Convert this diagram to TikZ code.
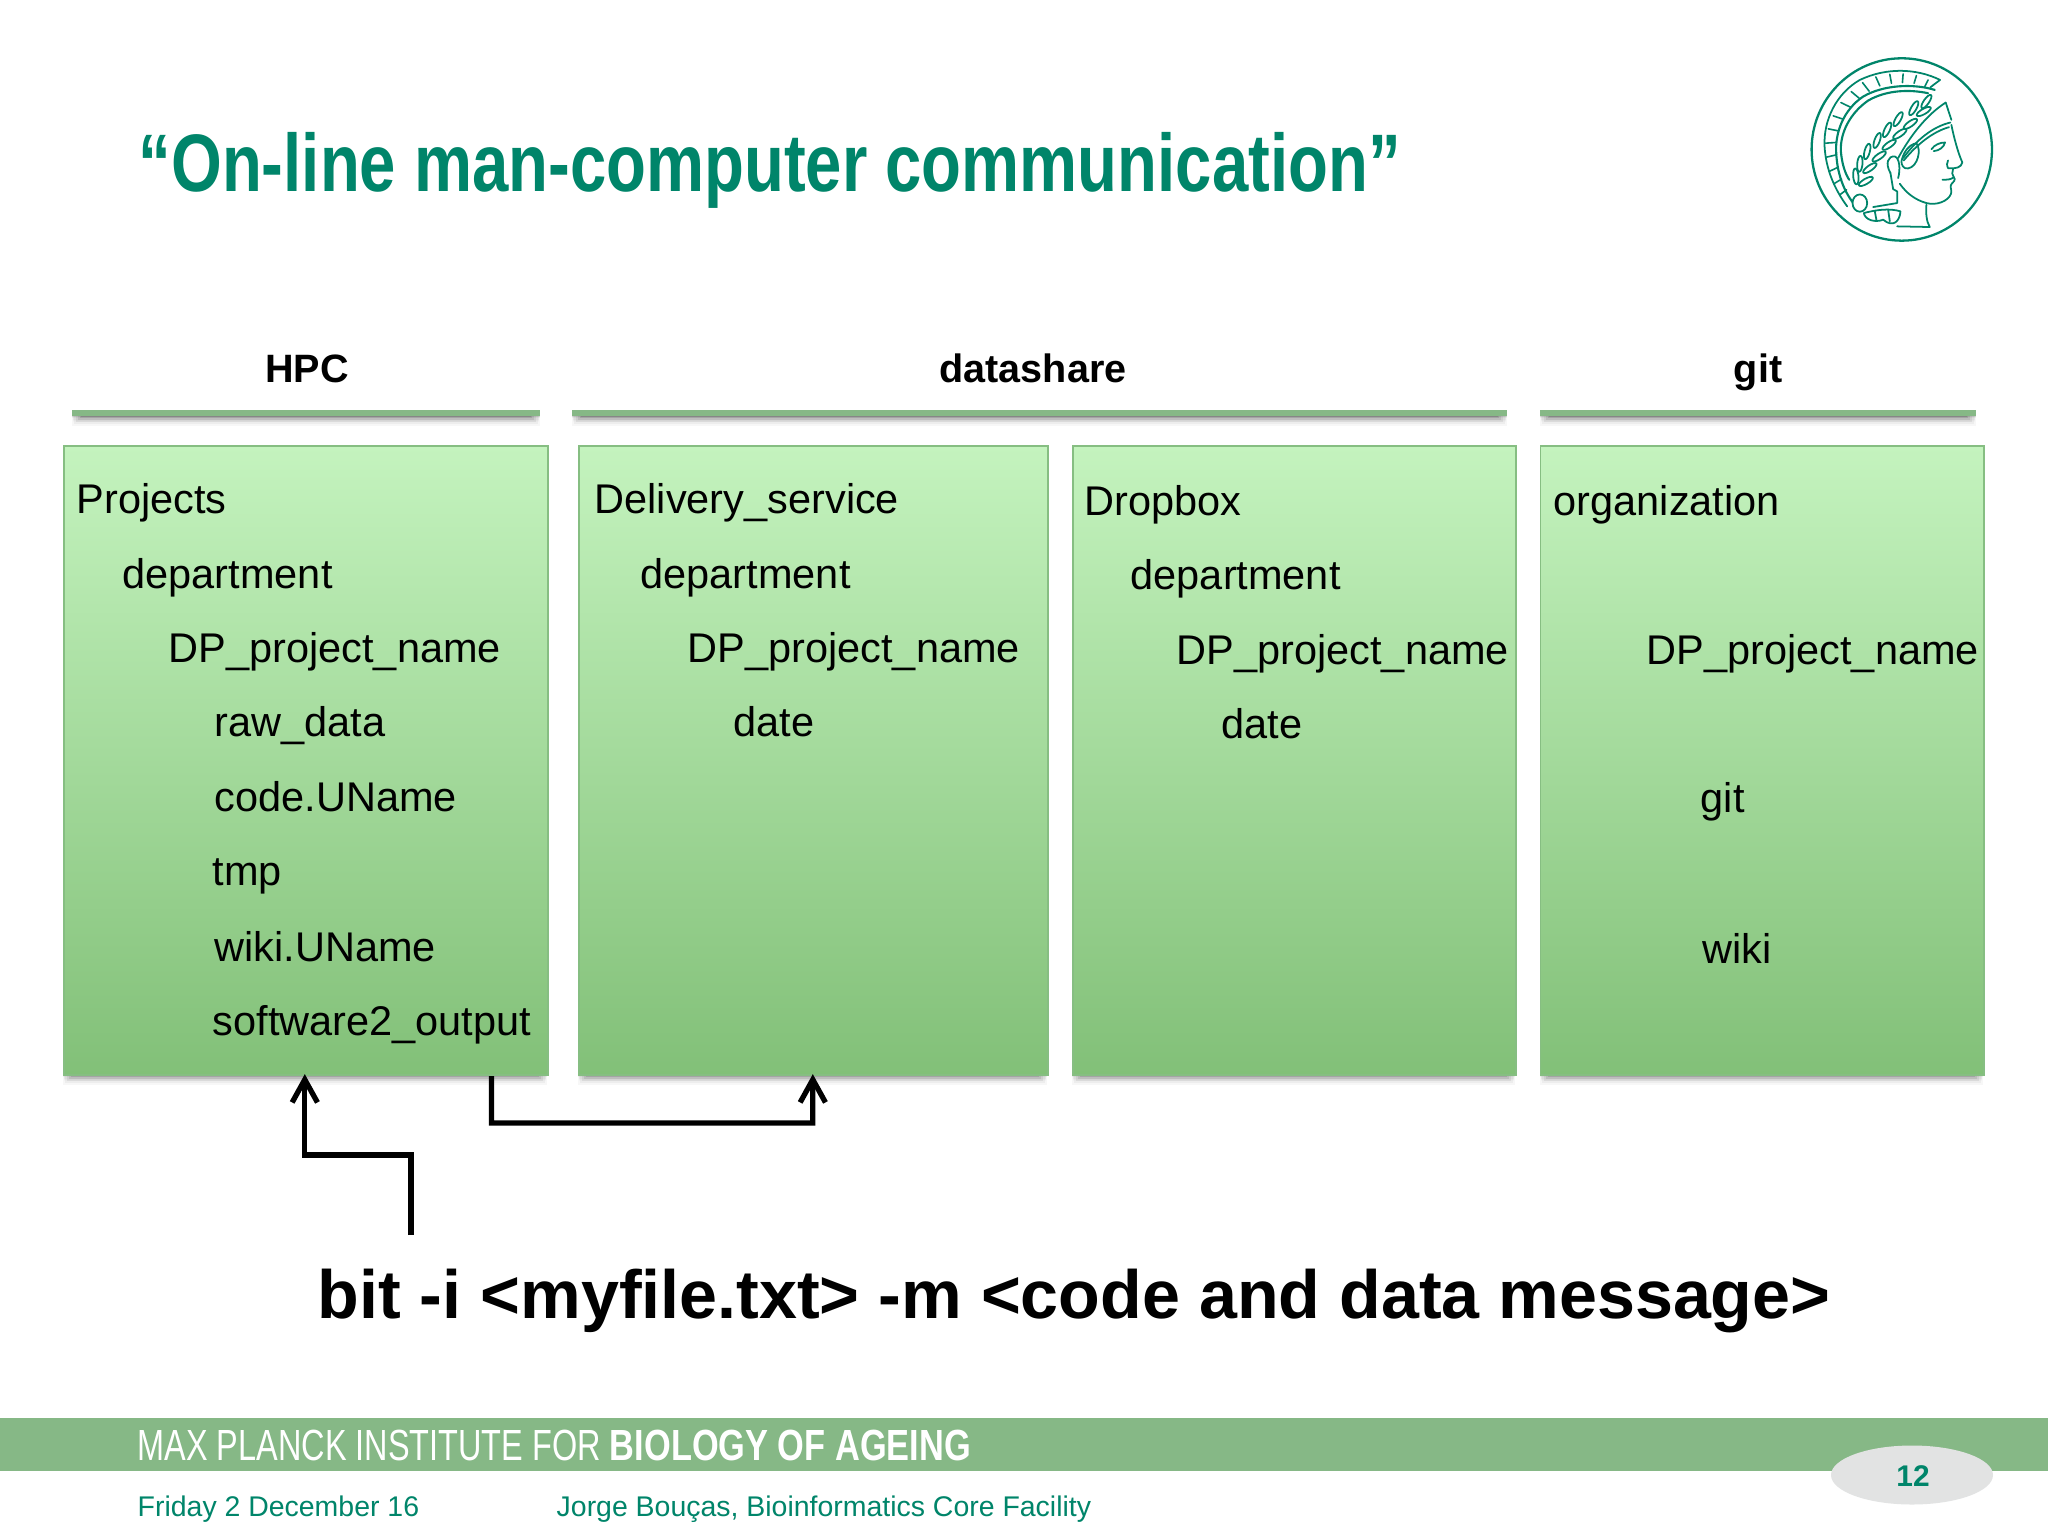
\documentclass[tikz,border=0pt]{standalone}
\usepackage{fontspec}
\usetikzlibrary{arrows.meta,calc}
\setmainfont{Liberation Sans}
\newfontfamily\narrowfont[FakeStretch=0.80]{Liberation Sans}
\newfontfamily\instreg[FakeStretch=0.744]{Liberation Sans}
\newfontfamily\instbold[FakeStretch=0.788]{Liberation Sans}
\definecolor{mpgteal}{RGB}{0,133,106}
\definecolor{barG}{RGB}{134,184,134}
\definecolor{boxTop}{RGB}{196,243,190}
\definecolor{boxBot}{RGB}{130,192,120}
\definecolor{boxEdge}{RGB}{134,190,130}
\definecolor{pill}{RGB}{226,227,227}
\newcommand{\softshadow}[4]{%
  \foreach \d/\o in {1/.10,2/.09,4/.08,6/.06,8/.04,10/.03}{
    \fill[black,opacity=\o] (#1+10-\d,#2-4) rectangle (#3-10+\d,#4+\d);
    \fill[black,opacity=\o*.5] (#1+\d*.1,#2-4) rectangle (#3-\d*.1,#4+\d*.6);}}
\tikzset{
  dirbox/.style={rectangle,draw=boxEdge,line width=.5pt,top color=boxTop,bottom color=boxBot,inner sep=0pt,anchor=north west},
  dirtext/.style={anchor=base west,inner sep=0pt,font=\fontsize{11.8}{14}\selectfont,text=black},
  headtext/.style={anchor=base,inner sep=0pt,font=\fontsize{11.25}{14}\selectfont\bfseries,text=black},
  hbar/.style={fill=barG,draw=none},
  link/.style={line width=1.5pt,black,line join=miter},
  tiplink/.style={link,-{Straight Barb[length=6.5pt,width=7.2pt,line width=1.5pt]}},
  logoline/.style={mpgteal,line width=.5pt,line cap=round,line join=round},
  foot/.style={anchor=base west,inner sep=0pt,text=mpgteal,font=\fontsize{8.09}{10}\selectfont},
}
\begin{document}
\begin{tikzpicture}[x=0.01cm,y=-0.01cm]
\useasboundingbox (0,0) rectangle (2048,1536);
\fill[white] (0,0) rectangle (2048,1536);

% title
\node[anchor=base west,inner sep=0pt,text=mpgteal,font=\fontsize{23.2}{28}\selectfont\narrowfont\bfseries] (title) at (138,191) {“On-line man-computer communication”};

% logo
\begin{scope}[shift={(1760,30)},x=0.003333cm,y=-0.003333cm]
\draw[logoline,line width=.65pt] (426,359) ellipse [x radius=271,y radius=274];
% helmet arcs
\draw[logoline] (512,172) -- (541,150) .. controls (470,115) and (380,112) .. (300,150) .. controls (230,190) and (190,270) .. (194,350) .. controls (198,420) and (225,480) .. (262,530);
\draw[logoline,line width=.6pt] (525,180) .. controls (460,160) and (370,165) .. (310,200) .. controls (250,240) and (225,310) .. (229,370) .. controls (232,430) and (250,480) .. (280,520);
\draw[logoline,line width=.6pt] (505,190) .. controls (450,178) and (380,180) .. (325,212) .. controls (270,250) and (240,310) .. (243,365) .. controls (246,400) and (255,430) .. (268,450);
% radial ticks
\foreach \xa/\ya/\xb/\yb in {505/150/495/170, 470/137/463/160, 430/132/428/158, 390/133/395/160, 348/141/360/168, 308/158/328/184, 274/185/298/205, 243/218/272/232, 220/258/250/268, 205/297/235/303, 197/340/228/338, 200/382/230/375, 208/425/235/412, 222/462/245/448, 240/495/260/480}
  \draw[logoline,line width=.45pt] (\xa,\ya) -- (\xb,\yb);
% wreath leaves
\foreach \xx/\yy/\aa in {300/402/85, 330/415/35, 318/455/30, 322/365/75, 358/380/35, 352/332/70, 388/345/35, 382/300/65, 420/312/35, 415/268/60, 452/282/35, 462/235/60, 492/245/30, 500/215/55, 288/440/95}
  \draw[logoline,fill=white,rotate around={\aa:(\xx,\yy)}] (\xx,\yy) ellipse [x radius=24,y radius=8];
\draw[logoline,fill=white] (300,520) ellipse [x radius=22,y radius=26];
% hair bands
\draw[logoline] (415,385) .. controls (450,320) and (500,255) .. (558,218);
\draw[logoline] (558,218) -- (575,270);
\draw[logoline] (430,385) .. controls (470,330) and (520,290) .. (572,278);
\draw[logoline] (432,392) .. controls (470,345) and (520,305) .. (568,292);
\draw[logoline] (425,395) .. controls (430,370) and (445,345) .. (470,340) .. controls (485,360) and (475,410) .. (445,416) .. controls (430,418) and (425,405) .. (425,395);
% ear
\draw[logoline] (392,430) .. controls (375,400) and (385,378) .. (405,380) .. controls (420,385) and (422,420) .. (415,445);
% face
\draw[logoline] (575,285) .. controls (582,320) and (595,370) .. (608,398) .. controls (605,412) and (590,418) .. (565,415) .. controls (560,405) and (562,400) .. (565,392);
\draw[logoline] (580,418) .. controls (578,428) and (575,435) .. (582,442) .. controls (575,450) and (560,450) .. (548,450);
\draw[logoline] (582,442) .. controls (590,450) and (580,458) .. (576,462) .. controls (568,470) and (578,480) .. (574,492) .. controls (565,515) and (530,528) .. (500,520) .. controls (465,510) and (440,490) .. (420,462);
\draw[logoline] (515,358) .. controls (525,345) and (540,338) .. (556,338) .. controls (552,352) and (540,362) .. (522,364);
\draw[logoline] (500,525) .. controls (498,550) and (500,575) .. (510,592) -- (412,590);
% neck guard
\draw[logoline] (392,430) -- (400,478) -- (412,485) -- (412,520) -- (340,532);
\draw[logoline] (312,550) .. controls (350,540) and (390,535) .. (422,545) .. controls (420,575) and (400,595) .. (370,570) .. controls (345,580) and (315,570) .. (312,550);
\draw[logoline] (345,545) -- (350,572);
\draw[logoline] (385,540) -- (390,575);
\end{scope}

% header labels and bars
\node[headtext] (hpc) at (307,382) {HPC};
\node[headtext] (datashare) at (1033,382) {datashare};
\node[headtext] (gitl) at (1758,382) {git};
\foreach \a/\b in {72/540,572/1507,1540/1976}{
  \softshadow{\a}{416}{\b}{416}
  \fill[hbar] (\a,410) rectangle (\b,416);
}

% boxes
\softshadow{63}{1074}{547}{1075}
\softshadow{578}{1074}{1047}{1075}
\softshadow{1072}{1074}{1515}{1075}
\softshadow{1540}{1074}{1983}{1075}
\node[dirbox,minimum width=4.84cm,minimum height=6.29cm] (box1) at (62.8,445) {};
\node[dirbox,minimum width=4.69cm,minimum height=6.29cm] (box2) at (577.8,445) {};
\node[dirbox,minimum width=4.43cm,minimum height=6.29cm] (box3) at (1071.8,445) {};
\node[dirbox,minimum width=4.43cm,minimum height=6.29cm] (box4) at (1539.5,445) {};

% box 1 text
\node[dirtext] (b1a) at (76,513) {Projects};
\node[dirtext] (b1b) at (122,588) {department};
\node[dirtext] (b1c) at (168,662) {DP\_project\_name};
\node[dirtext] (b1d) at (214,736) {raw\_data};
\node[dirtext] (b1e) at (214,811) {code.UName};
\node[dirtext] (b1f) at (212,885) {tmp};
\node[dirtext] (b1g) at (214,961) {wiki.UName};
\node[dirtext] (b1h) at (212,1035) {software2\_output};
% box 2 text
\node[dirtext] (b2a) at (594,513) {Delivery\_service};
\node[dirtext] (b2b) at (640,588) {department};
\node[dirtext] (b2c) at (687,662) {DP\_project\_name};
\node[dirtext] (b2d) at (733,736) {date};
% box 3 text
\node[dirtext] (b3a) at (1084,515) {Dropbox};
\node[dirtext] (b3b) at (1130,589) {department};
\node[dirtext] (b3c) at (1176,664) {DP\_project\_name};
\node[dirtext] (b3d) at (1221,738) {date};
% box 4 text
\node[dirtext] (b4a) at (1553,515) {organization};
\node[dirtext] (b4b) at (1646,664) {DP\_project\_name};
\node[dirtext] (b4c) at (1700,812) {git};
\node[dirtext] (b4d) at (1702,963) {wiki};

% command
\node[anchor=base west,inner sep=0pt,font=\fontsize{19.4}{23}\selectfont\bfseries,text=black] (cmd) at (317,1318) {bit -i <myfile.txt> -m <code and data message>};

% connectors
\coordinate (a1start) at (411,1235);
\path (box1.south west) ++(242,-2) coordinate (a1end);
\coordinate (a1elbow) at (411,1155);
\draw[tiplink] (a1start) -- (a1elbow) -- (a1elbow -| a1end) -- (a1end);
\path (box1.south west) ++(428.7,0) coordinate (a2start);
\path (box2.south west) ++(235,-2) coordinate (a2end);
\coordinate (a2low) at (491.5,1123);
\draw[tiplink] (a2start) -- (a2low) -- (a2low -| a2end) -- (a2end);

% footer
\fill[barG] (0,1418) rectangle (2048,1471);
\node[anchor=base west,inner sep=0pt,text=white,font=\fontsize{12.4}{14}\selectfont\instreg] (inst) at (137,1460) {MAX PLANCK INSTITUTE FOR \instbold\bfseries BIOLOGY OF AGEING};
\node[foot] (date) at (137,1516) {Friday 2 December 16};
\node[foot] (author) at (556,1516) {Jorge Bouças, Bioinformatics Core Facility};
\fill[pill] (1912,1475) ellipse [x radius=81,y radius=29.5];
\node[inner sep=0pt,text=mpgteal,font=\fontsize{8.5}{10}\selectfont\bfseries] (pg) at (1913,1476) {12};
\end{tikzpicture}
\end{document}
